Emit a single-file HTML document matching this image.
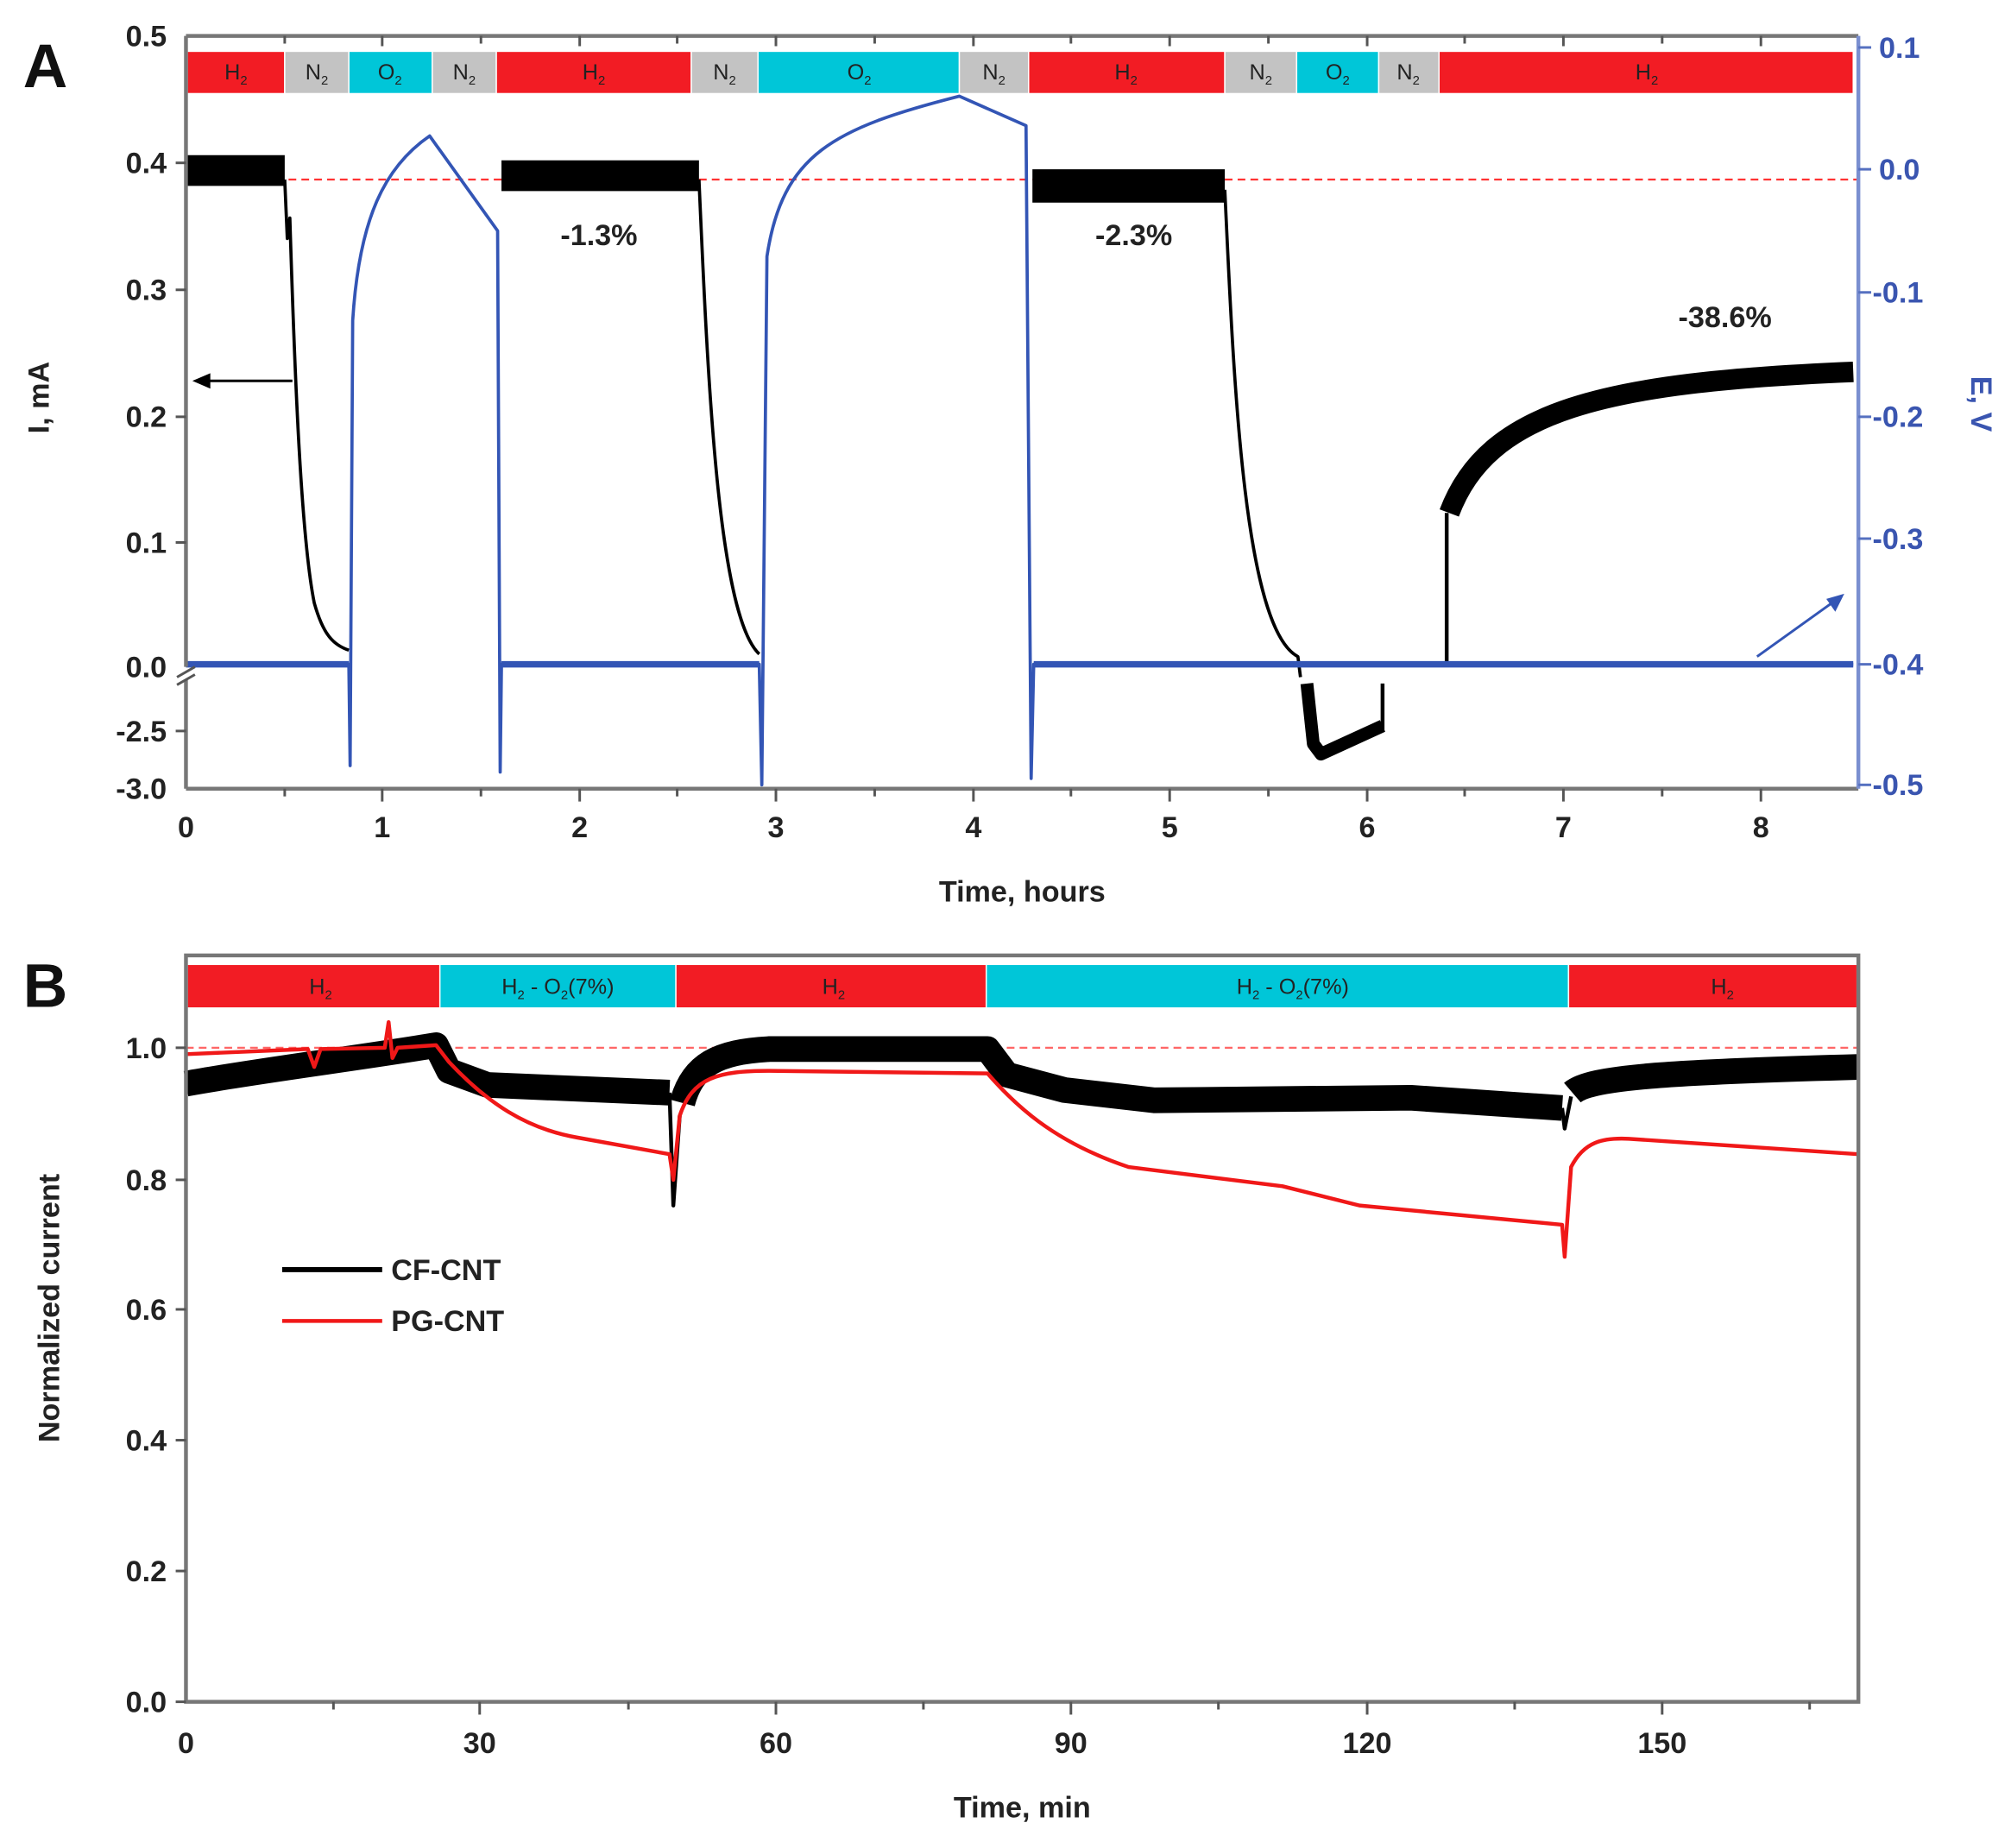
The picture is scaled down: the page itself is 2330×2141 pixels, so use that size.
<!DOCTYPE html>
<html><head><meta charset="utf-8"><style>html,body{margin:0;padding:0;background:#fff}svg{display:block}text{font-family:"Liberation Sans",sans-serif}</style></head>
<body>
<svg width="2330" height="2141" viewBox="0 0 1568 1441" preserveAspectRatio="none" xmlns="http://www.w3.org/2000/svg">
<rect width="1568" height="1441" fill="#fff"/>
<g stroke="#fff" stroke-width="1">
<rect x="146" y="40" width="76" height="33" fill="#f21c24"/>
<rect x="222" y="40" width="50" height="33" fill="#c3c3c3"/>
<rect x="272" y="40" width="65" height="33" fill="#00c6d8"/>
<rect x="337" y="40" width="50" height="33" fill="#c3c3c3"/>
<rect x="387" y="40" width="152" height="33" fill="#f21c24"/>
<rect x="539" y="40" width="52" height="33" fill="#c3c3c3"/>
<rect x="591" y="40" width="157" height="33" fill="#00c6d8"/>
<rect x="748" y="40" width="54" height="33" fill="#c3c3c3"/>
<rect x="802" y="40" width="153" height="33" fill="#f21c24"/>
<rect x="955" y="40" width="56" height="33" fill="#c3c3c3"/>
<rect x="1011" y="40" width="64" height="33" fill="#00c6d8"/>
<rect x="1075" y="40" width="47" height="33" fill="#c3c3c3"/>
<rect x="1122" y="40" width="323" height="33" fill="#f21c24"/>
</g>
<g font-size="17" fill="#222" text-anchor="middle">
<text x="184" y="62">H<tspan font-size="10" dy="4">2</tspan></text>
<text x="247" y="62">N<tspan font-size="10" dy="4">2</tspan></text>
<text x="304" y="62">O<tspan font-size="10" dy="4">2</tspan></text>
<text x="362" y="62">N<tspan font-size="10" dy="4">2</tspan></text>
<text x="463" y="62">H<tspan font-size="10" dy="4">2</tspan></text>
<text x="565" y="62">N<tspan font-size="10" dy="4">2</tspan></text>
<text x="670" y="62">O<tspan font-size="10" dy="4">2</tspan></text>
<text x="775" y="62">N<tspan font-size="10" dy="4">2</tspan></text>
<text x="878" y="62">H<tspan font-size="10" dy="4">2</tspan></text>
<text x="983" y="62">N<tspan font-size="10" dy="4">2</tspan></text>
<text x="1043" y="62">O<tspan font-size="10" dy="4">2</tspan></text>
<text x="1098" y="62">N<tspan font-size="10" dy="4">2</tspan></text>
<text x="1284" y="62">H<tspan font-size="10" dy="4">2</tspan></text>
</g>
<line x1="145" y1="140" x2="1449" y2="140" stroke="#f33" stroke-width="1.5" stroke-dasharray="6,4"/>
<g fill="none" stroke="#000" stroke-linejoin="round">
<line x1="145" y1="133" x2="222" y2="133" stroke-width="24"/>
<path d="M222,140 L224,186 L226,170 C230,300 235,420 245,470 C252,495 260,503 272,507" stroke-width="2.5"/>
<line x1="391" y1="137" x2="545" y2="137" stroke-width="24"/>
<path d="M545,140 C552,300 560,480 592,510" stroke-width="2.5"/>
<line x1="805" y1="145" x2="955" y2="145" stroke-width="26"/>
<path d="M955,148 C962,300 970,490 1012,512 L1014,528" stroke-width="2.5"/>
<path d="M1019,533 L1024,580 L1030,588 L1078,566" stroke-width="10"/>
<line x1="1078" y1="533" x2="1078" y2="570" stroke-width="3"/>
<line x1="1128" y1="520" x2="1128" y2="400" stroke-width="3"/>
<path d="M1130,400 C1160,320 1250,298 1445,290" stroke-width="16"/>
</g>
<g fill="none" stroke="#3355b5" stroke-linejoin="round">
<path d="M145,518 L272,518 L273,597 L275,250 C280,170 300,130 335,106 L388,180 L390,602 L391,518 L592,518 L594,612 L598,200 C610,120 650,100 748,75 L800,98 L804,607 L806,518 L1445,518" stroke-width="2.5"/>
<line x1="145" y1="518" x2="272" y2="518" stroke-width="5"/>
<line x1="391" y1="518" x2="592" y2="518" stroke-width="5"/>
<line x1="806" y1="518" x2="1445" y2="518" stroke-width="5"/>
</g>
<line x1="228" y1="297" x2="158" y2="297" stroke="#000" stroke-width="2"/>
<path d="M150,297 L164,291 L164,303 Z" fill="#000"/>
<line x1="1370" y1="512" x2="1430" y2="469" stroke="#3355b5" stroke-width="2"/>
<path d="M1438,463 L1424,467 L1431,477 Z" fill="#3355b5"/>
<g stroke="#777" stroke-width="3" fill="none">
<line x1="145" y1="28" x2="1449" y2="28"/>
<line x1="145" y1="615" x2="1449" y2="615"/>
<line x1="145" y1="28" x2="145" y2="520"/>
<line x1="145" y1="530" x2="145" y2="615"/>
</g>
<line x1="138" y1="528" x2="152" y2="520" stroke="#555" stroke-width="2"/>
<line x1="138" y1="534" x2="152" y2="526" stroke="#555" stroke-width="2"/>
<line x1="1449" y1="28" x2="1449" y2="615" stroke="#7a8fd0" stroke-width="3"/>
<g stroke="#555" stroke-width="2">
<line x1="145" y1="127" x2="137" y2="127"/><line x1="145" y1="226" x2="137" y2="226"/><line x1="145" y1="325" x2="137" y2="325"/><line x1="145" y1="423" x2="137" y2="423"/><line x1="145" y1="570" x2="137" y2="570"/>
<line x1="298" y1="615" x2="298" y2="625"/><line x1="452" y1="615" x2="452" y2="625"/><line x1="605" y1="615" x2="605" y2="625"/><line x1="759" y1="615" x2="759" y2="625"/><line x1="912" y1="615" x2="912" y2="625"/><line x1="1066" y1="615" x2="1066" y2="625"/><line x1="1219" y1="615" x2="1219" y2="625"/><line x1="1373" y1="615" x2="1373" y2="625"/>
<line x1="222" y1="615" x2="222" y2="621"/><line x1="375" y1="615" x2="375" y2="621"/><line x1="528" y1="615" x2="528" y2="621"/><line x1="682" y1="615" x2="682" y2="621"/><line x1="835" y1="615" x2="835" y2="621"/><line x1="989" y1="615" x2="989" y2="621"/><line x1="1142" y1="615" x2="1142" y2="621"/><line x1="1296" y1="615" x2="1296" y2="621"/>
<line x1="222" y1="28" x2="222" y2="34"/><line x1="298" y1="28" x2="298" y2="36"/><line x1="375" y1="28" x2="375" y2="34"/><line x1="452" y1="28" x2="452" y2="36"/><line x1="528" y1="28" x2="528" y2="34"/><line x1="605" y1="28" x2="605" y2="36"/><line x1="682" y1="28" x2="682" y2="34"/><line x1="759" y1="28" x2="759" y2="36"/><line x1="835" y1="28" x2="835" y2="34"/><line x1="912" y1="28" x2="912" y2="36"/><line x1="989" y1="28" x2="989" y2="34"/><line x1="1066" y1="28" x2="1066" y2="36"/><line x1="1142" y1="28" x2="1142" y2="34"/><line x1="1219" y1="28" x2="1219" y2="36"/><line x1="1296" y1="28" x2="1296" y2="34"/><line x1="1373" y1="28" x2="1373" y2="36"/>
</g>
<g stroke="#5570c0" stroke-width="2">
<line x1="1449" y1="37" x2="1459" y2="37"/><line x1="1449" y1="132" x2="1459" y2="132"/><line x1="1449" y1="228" x2="1459" y2="228"/><line x1="1449" y1="325" x2="1459" y2="325"/><line x1="1449" y1="420" x2="1459" y2="420"/><line x1="1449" y1="518" x2="1459" y2="518"/><line x1="1449" y1="612" x2="1459" y2="612"/>
</g>
<g font-size="23" font-weight="bold" fill="#222" text-anchor="end">
<text x="130" y="36">0.5</text><text x="130" y="135">0.4</text><text x="130" y="234">0.3</text><text x="130" y="333">0.2</text><text x="130" y="431">0.1</text><text x="130" y="528">0.0</text><text x="130" y="578">-2.5</text><text x="130" y="623">-3.0</text>
</g>
<g font-size="23" font-weight="bold" fill="#3a55b0" text-anchor="start">
<text x="1465" y="45">0.1</text><text x="1465" y="140">0.0</text><text x="1460" y="236">-0.1</text><text x="1460" y="333">-0.2</text><text x="1460" y="428">-0.3</text><text x="1460" y="526">-0.4</text><text x="1460" y="620">-0.5</text>
</g>
<g font-size="23" font-weight="bold" fill="#222" text-anchor="middle">
<text x="145" y="653">0</text><text x="298" y="653">1</text><text x="452" y="653">2</text><text x="605" y="653">3</text><text x="759" y="653">4</text><text x="912" y="653">5</text><text x="1066" y="653">6</text><text x="1219" y="653">7</text><text x="1373" y="653">8</text>
<text x="797" y="703">Time, hours</text>
<text x="467" y="191">-1.3%</text><text x="884" y="191">-2.3%</text><text x="1345" y="255">-38.6%</text>
<text transform="translate(38,310) rotate(-90)">I, mA</text>
</g>
<text transform="translate(1537,315) rotate(90)" font-size="23" font-weight="bold" fill="#3a55b0" text-anchor="middle">E, V</text>
<text x="18" y="68" font-size="48" font-weight="bold" fill="#111">A</text>

<g stroke="#fff" stroke-width="1">
<rect x="146" y="752" width="197" height="34" fill="#f21c24"/>
<rect x="343" y="752" width="184" height="34" fill="#00c6d8"/>
<rect x="527" y="752" width="242" height="34" fill="#f21c24"/>
<rect x="769" y="752" width="454" height="34" fill="#00c6d8"/>
<rect x="1223" y="752" width="225" height="34" fill="#f21c24"/>
</g>
<g font-size="17" fill="#222" text-anchor="middle">
<text x="250" y="775">H<tspan font-size="10" dy="4">2</tspan></text>
<text x="435" y="775">H<tspan font-size="10" dy="4">2</tspan><tspan dy="-4"> - O</tspan><tspan font-size="10" dy="4">2</tspan><tspan dy="-4">(7%)</tspan></text>
<text x="650" y="775">H<tspan font-size="10" dy="4">2</tspan></text>
<text x="1008" y="775">H<tspan font-size="10" dy="4">2</tspan><tspan dy="-4"> - O</tspan><tspan font-size="10" dy="4">2</tspan><tspan dy="-4">(7%)</tspan></text>
<text x="1343" y="775">H<tspan font-size="10" dy="4">2</tspan></text>
</g>
<line x1="145" y1="817" x2="1449" y2="817" stroke="#f66" stroke-width="1.5" stroke-dasharray="6,4"/>
<g fill="none" stroke-linejoin="round">
<path d="M145,845 C200,835 280,825 340,815 L350,835 L380,846 L522,852" stroke="#000" stroke-width="20"/>
<path d="M522,852 L525,940 L530,870" stroke="#000" stroke-width="3"/>
<path d="M532,860 C540,830 560,820 600,818 L770,818 L785,838 L830,850 L900,858 L1100,856 L1218,864" stroke="#000" stroke-width="20"/>
<path d="M1218,864 L1220,880 L1225,855" stroke="#000" stroke-width="3"/>
<path d="M1226,852 C1240,840 1300,836 1449,832" stroke="#000" stroke-width="20"/>
<path d="M145,822 L240,818 L245,832 L250,818 L300,817 L303,797 L306,825 L310,817 L340,815 L350,828 C380,860 410,880 450,887 L522,900 L525,920 L530,870 C540,840 560,835 600,835 L770,837 C790,860 820,890 880,910 L1000,925 L1060,940 L1218,955 L1220,980 L1225,910 C1235,890 1250,887 1270,888 L1449,900" stroke="#f01818" stroke-width="3"/>
</g>
<rect x="145" y="745" width="1304" height="582" stroke="#777" stroke-width="3" fill="none"/>
<g stroke="#555" stroke-width="2">
<line x1="145" y1="817" x2="137" y2="817"/><line x1="145" y1="920" x2="137" y2="920"/><line x1="145" y1="1021" x2="137" y2="1021"/><line x1="145" y1="1123" x2="137" y2="1123"/><line x1="145" y1="1225" x2="137" y2="1225"/><line x1="145" y1="1327" x2="137" y2="1327"/>
<line x1="374" y1="1327" x2="374" y2="1337"/><line x1="605" y1="1327" x2="605" y2="1337"/><line x1="835" y1="1327" x2="835" y2="1337"/><line x1="1066" y1="1327" x2="1066" y2="1337"/><line x1="1296" y1="1327" x2="1296" y2="1337"/>
<line x1="260" y1="1327" x2="260" y2="1333"/><line x1="490" y1="1327" x2="490" y2="1333"/><line x1="720" y1="1327" x2="720" y2="1333"/><line x1="950" y1="1327" x2="950" y2="1333"/><line x1="1181" y1="1327" x2="1181" y2="1333"/><line x1="1411" y1="1327" x2="1411" y2="1333"/>
</g>
<g font-size="23" font-weight="bold" fill="#222" text-anchor="end">
<text x="130" y="825">1.0</text><text x="130" y="928">0.8</text><text x="130" y="1029">0.6</text><text x="130" y="1131">0.4</text><text x="130" y="1233">0.2</text><text x="130" y="1335">0.0</text>
</g>
<g font-size="23" font-weight="bold" fill="#222" text-anchor="middle">
<text x="145" y="1367">0</text><text x="374" y="1367">30</text><text x="605" y="1367">60</text><text x="835" y="1367">90</text><text x="1066" y="1367">120</text><text x="1296" y="1367">150</text>
<text x="797" y="1417">Time, min</text>
<text transform="translate(46,1020) rotate(-90)">Normalized current</text>
</g>
<line x1="220" y1="990" x2="298" y2="990" stroke="#000" stroke-width="4"/>
<line x1="220" y1="1030" x2="298" y2="1030" stroke="#f01818" stroke-width="3"/>
<text x="305" y="998" font-size="23" font-weight="bold" fill="#222">CF-CNT</text>
<text x="305" y="1038" font-size="23" font-weight="bold" fill="#222">PG-CNT</text>
<text x="18" y="785" font-size="48" font-weight="bold" fill="#111">B</text>
</svg>
</body></html>
